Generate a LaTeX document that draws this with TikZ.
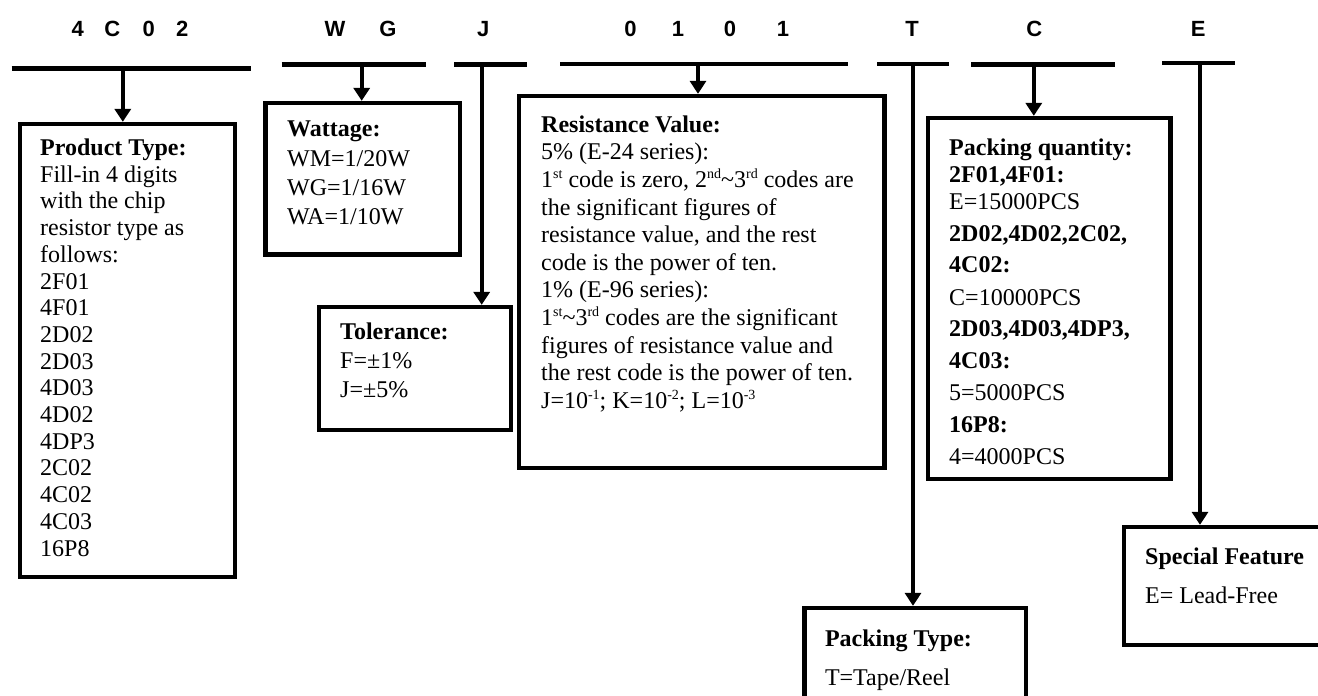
\documentclass[tikz,border=0pt]{standalone}
\usepackage{fontspec}
\setmainfont{Liberation Serif}
\newfontfamily\labfont{Liberation Sans}
\usetikzlibrary{arrows.meta}
\newcommand{\boxtext}[2]{\parbox[t]{420pt}{\fontsize{24}{#1}\selectfont #2}}
\newcommand{\sups}[1]{\raisebox{9pt}{\fontsize{14}{14}\selectfont #1}}
\begin{document}
\begin{tikzpicture}[x=1pt,y=-1pt,
  lab/.style={font=\labfont\bfseries\fontsize{22}{22}\selectfont, inner sep=0, anchor=base},
  bar/.style={line width=4.4pt},
  box/.style={draw, line width=4.3pt, inner sep=0},
  conn/.style={line width=4.3pt, -{Triangle[width=16pt,length=13pt]}},
  txt/.style={inner sep=0, anchor=base west},
]
\useasboundingbox (0,0) rectangle (1318,696);
\clip (0,0) rectangle (1318,696);

% top labels
\node[lab] (lab1) at (130,36) {4\hspace{20.4pt}C\hspace{22.5pt}0\hspace{21.2pt}2};
\node[lab] (lab2) at (360.5,36) {W\hspace{34pt}G};
\node[lab] (lab3) at (483.3,36) {J};
\node[lab] (lab4) at (706.75,36) {0\hspace{35.3pt}1\hspace{39.8pt}0\hspace{40.8pt}1};
\node[lab] (lab5) at (912,36) {T};
\node[lab] (lab6) at (1034.3,36) {C};
\node[lab] (lab7) at (1198.3,36) {E};

% bars
\coordinate (b1l) at (11.7,68.3);  \coordinate (b1r) at (250.7,68.3);
\coordinate (b2l) at (281.7,64.5); \coordinate (b2r) at (425.7,64.5);
\coordinate (b3l) at (454.3,64.5); \coordinate (b3r) at (526.7,64.5);
\coordinate (b4l) at (560,64);     \coordinate (b4r) at (848.3,64);
\coordinate (b5l) at (877.3,64);   \coordinate (b5r) at (949.3,64);
\coordinate (b6l) at (971,64.5);   \coordinate (b6r) at (1115,64.5);
\coordinate (b7l) at (1162.3,63);  \coordinate (b7r) at (1235,63);
\foreach \i in {1,...,7} {\draw[bar] (b\i l) -- (b\i r);}

% boxes
\node[box, minimum width=214.7pt, minimum height=453pt] (prod) at (127.35,350.5) {};
\node[box, minimum width=194.5pt, minimum height=151.5pt] (watt) at (362.75,178.75) {};
\node[box, minimum width=192pt, minimum height=123pt] (tol) at (415,368.5) {};
\node[box, minimum width=365.5pt, minimum height=372pt] (res) at (701.75,282) {};
\node[box, minimum width=242.5pt, minimum height=360.7pt] (pq) at (1049.25,298.35) {};
\node[box, minimum width=221.5pt, minimum height=112pt] (pt) at (915.25,664) {};
\node[box, minimum width=216pt, minimum height=118pt] (sf) at (1232,586) {};

% connectors
\coordinate (a1) at (122.8,68.3);
\coordinate (a2) at (361.7,64.5);
\coordinate (a3) at (481.7,64.5);
\coordinate (a4) at (698,64);
\coordinate (a5) at (913,64);
\coordinate (a6) at (1033.8,64.5);
\coordinate (a7) at (1200,63);
\draw[conn] (a1) -- (a1 |- prod.north);
\draw[conn] (a2) -- (a2 |- watt.north);
\draw[conn] (a3) -- (a3 |- tol.north);
\draw[conn] (a4) -- (a4 |- res.north);
\draw[conn] (a5) -- (a5 |- pt.north);
\draw[conn] (a6) -- (a6 |- pq.north);
\draw[conn] (a7) -- (a7 |- sf.north);

% texts
\node[txt] (prodtxt) at (40,155.5) {\boxtext{26.7}{%
\textbf{Product Type:}\\
Fill-in 4 digits\\
with the chip\\
resistor type as\\
follows:\\
2F01\\
4F01\\
2D02\\
2D03\\
4D03\\
4D02\\
4DP3\\
2C02\\
4C02\\
4C03\\
16P8}};

\node[txt] (watttxt) at (287,136.7) {\boxtext{29.4}{%
\textbf{Wattage:}\\
WM=1/20W\\
WG=1/16W\\
WA=1/10W}};

\node[txt] (toltxt) at (340,339) {\boxtext{29}{%
\textbf{Tolerance:}\\
F=±1\%\\
J=±5\%}};

\node[txt] (restxt) at (541,132.3) {\boxtext{27.6}{%
\textbf{Resistance Value:}\\
5\% (E-24 series):\\
1\sups{st} code is zero, 2\sups{nd}\textasciitilde 3\sups{rd} codes are\\
the significant figures of\\
resistance value, and the rest\\
code is the power of ten.\\
1\% (E-96 series):\\
1\sups{st}\textasciitilde 3\sups{rd} codes are the significant\\
figures of resistance value and\\
the rest code is the power of ten.\\
J=10\sups{-1}; K=10\sups{-2}; L=10\sups{-3}}};

\node[txt] (pqtxt) at (949,155) {\boxtext{27}{%
\textbf{Packing quantity:}\\
\textbf{2F01,4F01:}\\
E=15000PCS\\[5pt]
\textbf{2D02,4D02,2C02,}\\[4pt]
\textbf{4C02:}\\[6pt]
C=10000PCS\\[4pt]
\textbf{2D03,4D03,4DP3,}\\[5pt]
\textbf{4C03:}\\[5.7pt]
5=5000PCS\\[4.3pt]
\textbf{16P8:}\\[5pt]
4=4000PCS}};

\node[txt] (pttxt) at (824.8,646) {\boxtext{39}{%
\textbf{Packing Type:}\\
T=Tape/Reel}};

\node[txt] (sftxt) at (1145,564) {\boxtext{39}{%
\textbf{Special Feature}\\
E= Lead-Free}};
\end{tikzpicture}
\end{document}
